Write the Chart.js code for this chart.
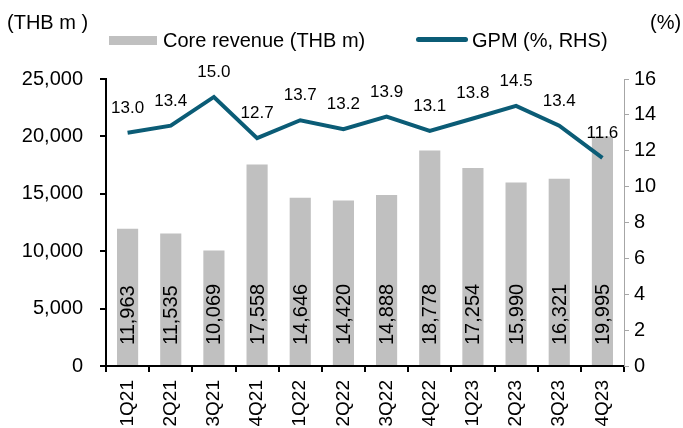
<!DOCTYPE html>
<html>
<head>
<meta charset="utf-8">
<script src="https://cdn.jsdelivr.net/npm/chart.js@4"></script>
<style>
  body { margin: 0; background: #fff; }
  #wrap { position: relative; width: 683px; height: 428px; font-family: 'Liberation Sans', Arial, sans-serif; color: #000; }
  #cht { position: absolute; left: 0; top: 0; }
  .txt { position: absolute; font-size: 20px; white-space: nowrap; line-height: 20px; }
  .box { position: absolute; }
</style>
</head>
<body>
<div id="wrap">
  <canvas id="cht" width="683" height="428"></canvas>
  <div class="txt" style="left:7px; top:12px;">(THB m )</div>
  <div class="txt" style="left:650px; top:12px;">(%)</div>
  <div class="box" style="left:109px; top:36px; width:48px; height:9px; background:#c0c0c0;"></div>
  <div class="txt" style="left:163px; top:30px;">Core revenue (THB m)</div>
  <div class="box" style="left:416px; top:37px; width:52px; height:5px; border-radius:3px; background:#0b5c76;"></div>
  <div class="txt" style="left:472px; top:30px;">GPM (%, RHS)</div>
</div>
<script>
const quarters = ["1Q21", "2Q21", "3Q21", "4Q21", "1Q22", "2Q22", "3Q22", "4Q22", "1Q23", "2Q23", "3Q23", "4Q23"];
const coreRevenue = [11963, 11535, 10069, 17558, 14646, 14420, 14888, 18778, 17254, 15990, 16321, 19995];
const gpm = [13.0, 13.4, 15.0, 12.7, 13.7, 13.2, 13.9, 13.1, 13.8, 14.5, 13.4, 11.6];

const fontName = "'Liberation Sans', Arial, sans-serif";
const lineColor = "#0b5c76";
const barColor = "#c0c0c0";

// value labels: rotated inside bars, above line points
const labelPlugin = {
  id: "labels",
  afterDatasetsDraw(chart) {
    const ctx = chart.ctx;
    const bars = chart.getDatasetMeta(0).data;
    const pts = chart.getDatasetMeta(1).data;
    const base = chart.scales.x.top;
    ctx.save();
    ctx.fillStyle = "#000";
    ctx.font = "20px " + fontName;
    bars.forEach((b, i) => {
      ctx.save();
      ctx.translate(b.x, base - 21);
      ctx.rotate(-Math.PI / 2);
      ctx.textAlign = "left";
      ctx.textBaseline = "middle";
      ctx.fillText(coreRevenue[i].toLocaleString("en-US"), 0, 1);
      ctx.restore();
    });
    ctx.font = "17px " + fontName;
    ctx.textAlign = "center";
    ctx.textBaseline = "alphabetic";
    pts.forEach((p, i) => {
      ctx.fillText(gpm[i].toFixed(1), p.x, p.y - 20);
    });
    ctx.restore();
  }
};

new Chart("cht", {
  data: {
    labels: quarters,
    datasets: [{
      type: "bar",
      data: coreRevenue,
      backgroundColor: barColor,
      barPercentage: 0.49,
      categoryPercentage: 1,
      yAxisID: "y",
      order: 2
    }, {
      type: "line",
      data: gpm,
      borderColor: lineColor,
      borderWidth: 4,
      pointRadius: 0,
      tension: 0,
      yAxisID: "y1",
      order: 1
    }]
  },
  options: {
    responsive: false,
    animation: false,
    layout: { padding: { top: 79, left: 0, right: 0, bottom: 0 } },
    plugins: { legend: { display: false }, tooltip: { enabled: false } },
    scales: {
      x: {
        grid: { drawOnChartArea: false, offset: true, color: "#000", tickLength: 6, lineWidth: 2 },
        border: { color: "#000", width: 2 },
        ticks: { color: "#000", font: { family: fontName, size: 19 }, minRotation: 90, maxRotation: 90, padding: 8 },
        afterFit(s) { s.height = 62; }
      },
      y: {
        position: "left",
        min: 0, max: 25000,
        ticks: { stepSize: 5000, color: "#000", font: { family: fontName, size: 20 }, padding: 17,
          callback: v => v.toLocaleString("en-US") },
        grid: { drawOnChartArea: false, color: "#000", tickLength: 6, lineWidth: 2 },
        border: { color: "#000", width: 2 },
        afterFit(s) { s.width = 106; }
      },
      y1: {
        position: "right",
        min: 0, max: 16,
        ticks: { stepSize: 2, color: "#000", font: { family: fontName, size: 20 }, padding: 5 },
        grid: { drawOnChartArea: false, color: "#a6a6a6", tickLength: 5, lineWidth: 1 },
        border: { color: "#a6a6a6", width: 1 },
        afterFit(s) { s.width = 59; }
      }
    }
  },
  plugins: [labelPlugin]
});
</script>
</body>
</html>
